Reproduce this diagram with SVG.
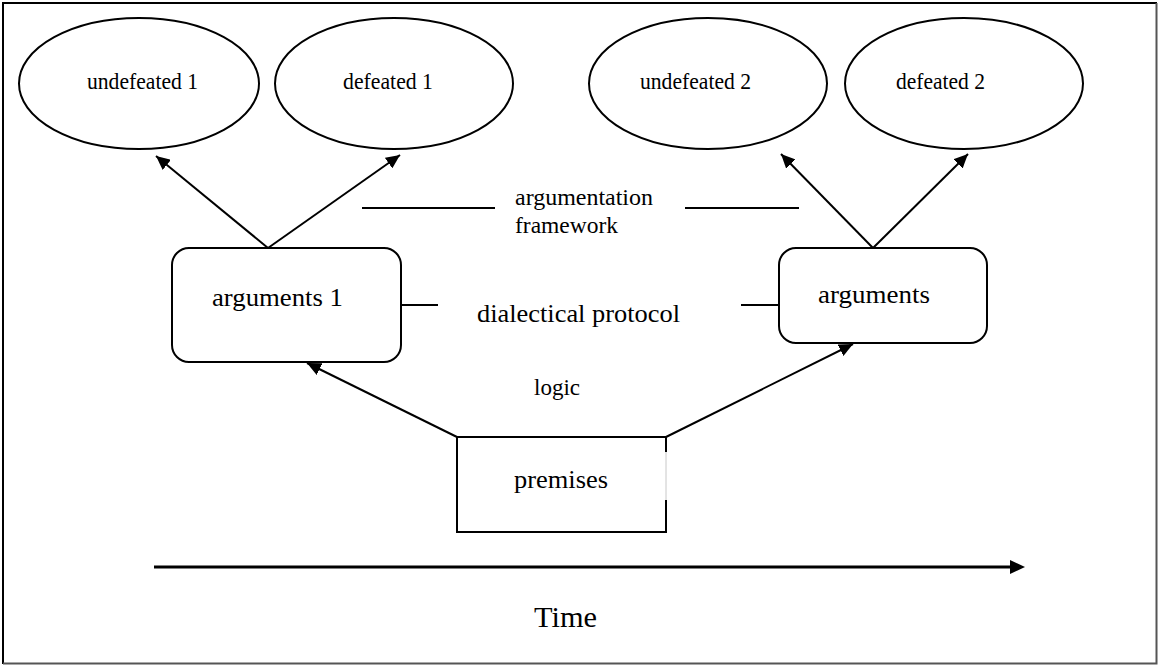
<svg xmlns="http://www.w3.org/2000/svg" width="1158" height="665" viewBox="0 0 1158 665">
  <style>
    .shape { fill: #ffffff; stroke: #000000; stroke-width: 2; }
    .edge { fill: none; stroke: #000000; stroke-width: 2; }
    .lbl { font-family: "Liberation Serif", "Times New Roman", serif; fill: #000000; }
    .oval { font-size: 23.5px; }
  </style>
  <defs>
    <marker id="arrow" markerUnits="userSpaceOnUse" markerWidth="15" markerHeight="13" refX="14" refY="6.5" orient="auto">
      <path d="M0,0 L14,6.5 L0,13 z" fill="#000000"/>
    </marker>
  </defs>

  <!-- page frame -->
  <rect x="0" y="0" width="1158" height="665" fill="#ffffff"/>
  <path d="M3,664 L3,3 L1157,3" fill="none" stroke="#000000" stroke-width="2"/>
  <path d="M3,663.5 L1156.5,663.5 L1156.5,3" fill="none" stroke="#555555" stroke-width="2"/>

  <!-- connectors -->
  <g id="connectors">
    <line class="edge" x1="268" y1="248" x2="156" y2="156" marker-end="url(#arrow)"/>
    <line class="edge" x1="268" y1="248" x2="400" y2="155" marker-end="url(#arrow)"/>
    <line class="edge" x1="873" y1="248" x2="781" y2="154" marker-end="url(#arrow)"/>
    <line class="edge" x1="873" y1="248" x2="968" y2="154" marker-end="url(#arrow)"/>
    <line class="edge" x1="457" y1="437" x2="307" y2="363" marker-end="url(#arrow)"/>
    <line class="edge" x1="666" y1="437" x2="853" y2="344" marker-end="url(#arrow)"/>
    <!-- label rules -->
    <line class="edge" x1="362" y1="208" x2="495" y2="208"/>
    <line class="edge" x1="685" y1="208" x2="799" y2="208"/>
    <line class="edge" x1="401" y1="305" x2="438" y2="305"/>
    <line class="edge" x1="741" y1="305" x2="779" y2="305"/>
    <!-- time axis -->
    <line x1="154" y1="567" x2="1011" y2="567" stroke="#000000" stroke-width="3"/>
    <polygon points="1010,560 1025,567 1010,574" fill="#000000"/>
  </g>

  <!-- outcome ellipses -->
  <g id="undefeated1">
    <ellipse class="shape" cx="139" cy="83.5" rx="120" ry="65.5"/>
    <text class="lbl oval" x="87" y="89" textLength="111" lengthAdjust="spacingAndGlyphs">undefeated 1</text>
  </g>
  <g id="defeated1">
    <ellipse class="shape" cx="394" cy="83.5" rx="119" ry="65.5"/>
    <text class="lbl oval" x="343" y="89" textLength="90" lengthAdjust="spacingAndGlyphs">defeated 1</text>
  </g>
  <g id="undefeated2">
    <ellipse class="shape" cx="708" cy="83.5" rx="119" ry="65.5"/>
    <text class="lbl oval" x="640" y="89" textLength="111" lengthAdjust="spacingAndGlyphs">undefeated 2</text>
  </g>
  <g id="defeated2">
    <ellipse class="shape" cx="964" cy="83.5" rx="119" ry="65.5"/>
    <text class="lbl oval" x="896" y="89" textLength="89" lengthAdjust="spacingAndGlyphs">defeated 2</text>
  </g>

  <!-- argument sets -->
  <g id="arguments1">
    <rect class="shape" x="172" y="248" width="229" height="114" rx="17" ry="17"/>
    <text class="lbl" x="212" y="306" font-size="26" textLength="131" lengthAdjust="spacingAndGlyphs">arguments 1</text>
  </g>
  <g id="arguments2">
    <rect class="shape" x="779" y="248" width="208" height="95" rx="17" ry="17"/>
    <text class="lbl" x="818" y="303" font-size="26" textLength="112" lengthAdjust="spacingAndGlyphs">arguments</text>
  </g>

  <!-- premises: right edge partly faint -->
  <g id="premises">
    <rect x="457" y="437" width="209" height="95" fill="#ffffff"/>
    <path d="M666,452 L666,437 L457,437 L457,532 L666,532 L666,500" fill="none" stroke="#000000" stroke-width="2"/>
    <line x1="666" y1="452" x2="666" y2="500" stroke="#c8c8c8" stroke-width="1"/>
    <text class="lbl" x="514" y="488" font-size="26" textLength="94" lengthAdjust="spacingAndGlyphs">premises</text>
  </g>

  <!-- layer labels -->
  <g id="labels">
    <text class="lbl" x="515" y="205" font-size="24" textLength="138" lengthAdjust="spacingAndGlyphs">argumentation</text>
    <text class="lbl" x="515" y="233" font-size="24" textLength="103" lengthAdjust="spacingAndGlyphs">framework</text>
    <text class="lbl" x="477" y="322" font-size="26" textLength="203" lengthAdjust="spacingAndGlyphs">dialectical protocol</text>
    <text class="lbl" x="534" y="395" font-size="23" textLength="46" lengthAdjust="spacingAndGlyphs">logic</text>
    <text class="lbl" x="534" y="627" font-size="30" textLength="63" lengthAdjust="spacingAndGlyphs">Time</text>
  </g>
</svg>
